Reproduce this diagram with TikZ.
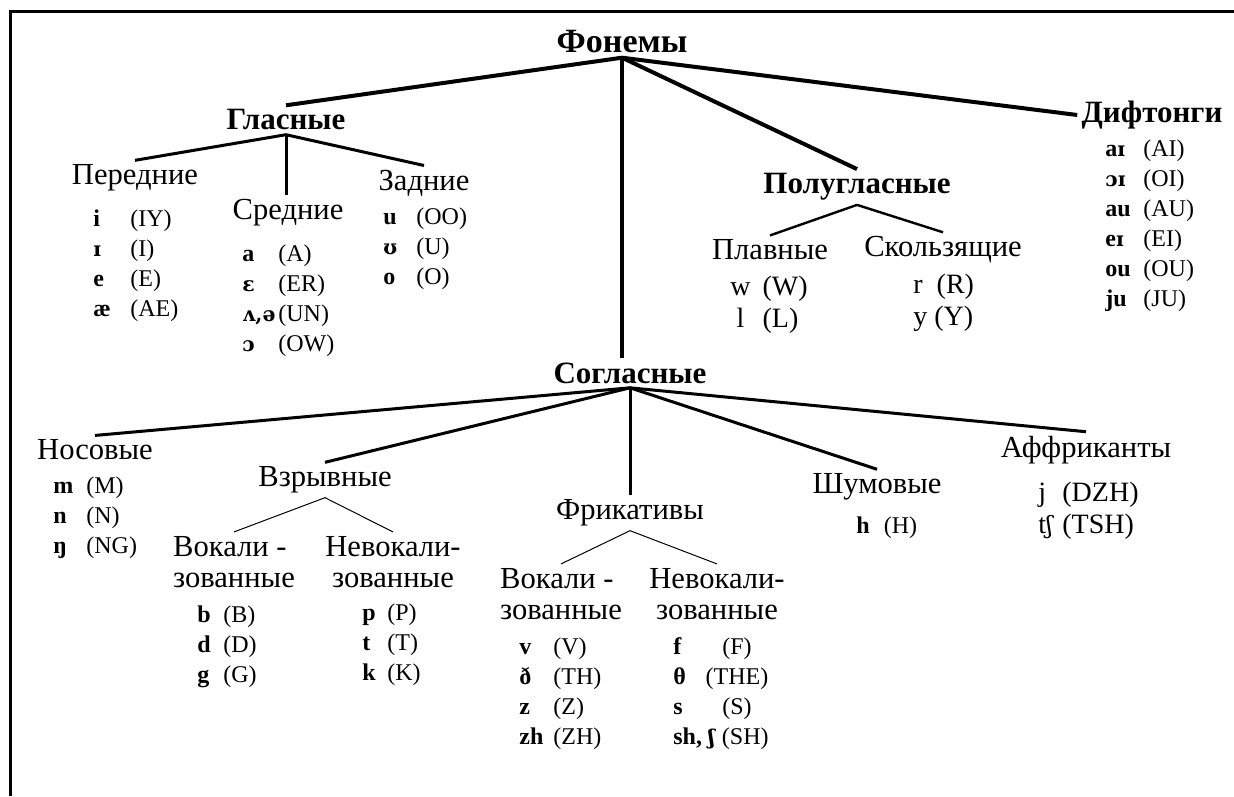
\documentclass[tikz,border=0pt]{standalone}
\usepackage{fontspec}
\setmainfont{Liberation Serif}
\newfontfamily\ipafont[Scale=0.85]{DejaVu Serif}
\newcommand{\ipa}[1]{{\ipafont #1}}

\tikzset{
  root/.style={font=\bfseries\fontsize{17}{20}\selectfont},
  head/.style={font=\bfseries\fontsize{15.5}{18}\selectfont},
  cat/.style={font=\fontsize{15.3}{15.5}\selectfont, align=center},
  items/.style={inner sep=0pt, anchor=base west, font=\fontsize{12}{15}\selectfont},
  bigitems/.style={inner sep=0pt, anchor=base west, font=\fontsize{14}{16}\selectfont},
  trunk/.style={line width=2pt},
  branch/.style={line width=1.5pt},
  twig/.style={line width=0.5pt}
}

\begin{document}
\begin{tikzpicture}[x=0.5pt, y=-0.5pt, every node/.style={inner sep=2pt}]
    \useasboundingbox (0,0) rectangle (1234,796);
    % frame
    \draw[line width=1.5pt] (10,796) -- (10,12) -- (1234,12);

    % root
    \node[root] (fon) at (622,42) {Фонемы};

    % vowels
    \node[head] (gl) at (286,120) {Гласные};
    \node[cat] (per) at (135,178) {Передние};
    \node[cat] (sr) at (288,213) {Средние};
    \node[cat] (zad) at (424,183) {Задние};
    \node[items] (per-list) at (93,227) {\begin{tabular}[t]{@{}p{18.5pt}@{}l@{}}
        \textbf{i} & (IY)\\
        \textbf{\ipa{ɪ}} & (I)\\
        \textbf{e} & (E)\\
        \textbf{æ} & (AE)
    \end{tabular}};
    \node[items] (sr-list) at (242,262) {\begin{tabular}[t]{@{}p{18pt}@{}l@{}}
        \textbf{a} & (A)\\
        \textbf{\ipa{ɛ}} & (ER)\\
        \textbf{\ipa{ʌ,ə}} & (UN)\\
        \textbf{\ipa{ɔ}} & (OW)
    \end{tabular}};
    \node[items] (zad-list) at (383,225) {\begin{tabular}[t]{@{}p{16.5pt}@{}l@{}}
        \textbf{u} & (OO)\\
        \textbf{\ipa{ʊ}} & (U)\\
        \textbf{o} & (O)
    \end{tabular}};

    % semivowels
    \node[head] (polu) at (857,187) {Полугласные};
    \node[cat] (plav) at (770,250) {Плавные};
    \node[cat] (skol) at (943,250) {Скользящие};
    \node[bigitems] (plav-list) at (730,295) {\begin{tabular}[t]{@{}c@{\hspace{6pt}}l@{}}
        w & (W)\\
        l & (L)
    \end{tabular}};
    \node[bigitems] (skol-list) at (913,293) {\begin{tabular}[t]{@{}l@{}}
        r \ (R)\\
        y (Y)
    \end{tabular}};

    % diphthongs
    \node[head] (dif) at (1152,115) {Дифтонги};
    \node[items] (dif-list) at (1105,157) {\begin{tabular}[t]{@{}p{19pt}@{}l@{}}
        \textbf{a\ipa{ɪ}} & (AI)\\
        \textbf{\ipa{ɔɪ}} & (OI)\\
        \textbf{au} & (AU)\\
        \textbf{e\ipa{ɪ}} & (EI)\\
        \textbf{ou} & (OU)\\
        \textbf{ju} & (JU)
    \end{tabular}};

    % consonants
    \node[head] (sog) at (630,373) {Согласные};
    \node[cat] (nos) at (95,450) {Носовые};
    \node[cat] (vz) at (325,480) {Взрывные};
    \node[cat] (fr) at (630,513) {Фрикативы};
    \node[cat] (shum) at (877,487) {Шумовые};
    \node[cat] (aff) at (1086,450) {Аффриканты};
    \node[items] (nos-list) at (53,493) {\begin{tabular}[t]{@{}p{16.5pt}@{}l@{}}
        \textbf{m} & (M)\\
        \textbf{n} & (N)\\
        \textbf{ŋ} & (NG)
    \end{tabular}};

    % plosives
    \node[cat, align=left] (vz-vok) at (234,562) {Вокали -\\зованные};
    \node[cat] (vz-nevok) at (393,562) {Невокали-\\зованные};
    \node[items] (vz-vok-list) at (197,622) {\begin{tabular}[t]{@{}p{13pt}@{}l@{}}
        \textbf{b} & (B)\\
        \textbf{d} & (D)\\
        \textbf{g} & (G)
    \end{tabular}};
    \node[items] (vz-nevok-list) at (362,620) {\begin{tabular}[t]{@{}p{12.5pt}@{}l@{}}
        \textbf{p} & (P)\\
        \textbf{t} & (T)\\
        \textbf{k} & (K)
    \end{tabular}};

    % fricatives
    \node[cat, align=left] (fr-vok) at (561,594) {Вокали -\\зованные};
    \node[cat] (fr-nevok) at (717,594) {Невокали-\\зованные};
    \node[items] (fr-vok-list) at (519,654) {\begin{tabular}[t]{@{}p{17pt}@{}l@{}}
        \textbf{v} & (V)\\
        \textbf{ð} & (TH)\\
        \textbf{z} & (Z)\\
        \textbf{zh} & (ZH)
    \end{tabular}};
    \node[items] (fr-nevok-list) at (673,654) {\begin{tabular}[t]{@{}p{16pt}@{}c@{}}
        \textbf{f} & (F)\\
        \textbf{θ} & (THE)\\
        \textbf{s} & (S)\\
        \multicolumn{2}{@{}l@{}}{\textbf{sh, \ipa{ʃ}} (SH)}
    \end{tabular}};

    % noise and affricates
    \node[items] (shum-list) at (856,533) {\textbf{h}\hspace{7pt}(H)};
    \node[bigitems] (aff-list) at (1038,501) {\begin{tabular}[t]{@{}p{12pt}@{}l@{}}
        j & (DZH)\\
        t\ipa{ʃ} & (TSH)
    \end{tabular}};

    % edges
    \draw[trunk] (fon.south) -- (gl.north);
    \draw[trunk] (fon.south) -- (polu.north);
    \draw[trunk] (fon.south) -- (dif.west);
    \draw[trunk] (fon.south) -- (fon.south |- sog.north);
    \draw[branch] (gl.south) -- (per.north);
    \draw[branch] (gl.south) -- (gl.south |- sr.north);
    \draw[branch] (gl.south) -- (zad.north);
    \draw[line width=1.2pt] (polu.south) -- (plav.north);
    \draw[line width=1.2pt] (polu.south) -- (skol.north);
    \draw[branch] (sog.south) -- (nos.north);
    \draw[branch] (sog.south) -- (vz.north);
    \draw[branch] (sog.south) -- (sog.south |- fr.north);
    \draw[branch] (sog.south) -- (shum.north);
    \draw[branch] (sog.south) -- (aff.north);
    \draw[twig] (vz.south) -- (vz-vok.north);
    \draw[twig] (vz.south) -- (vz-nevok.north);
    \draw[twig] (fr.south) -- (fr-vok.north);
    \draw[twig] (fr.south) -- (fr-nevok.north);
\end{tikzpicture}
\end{document}
